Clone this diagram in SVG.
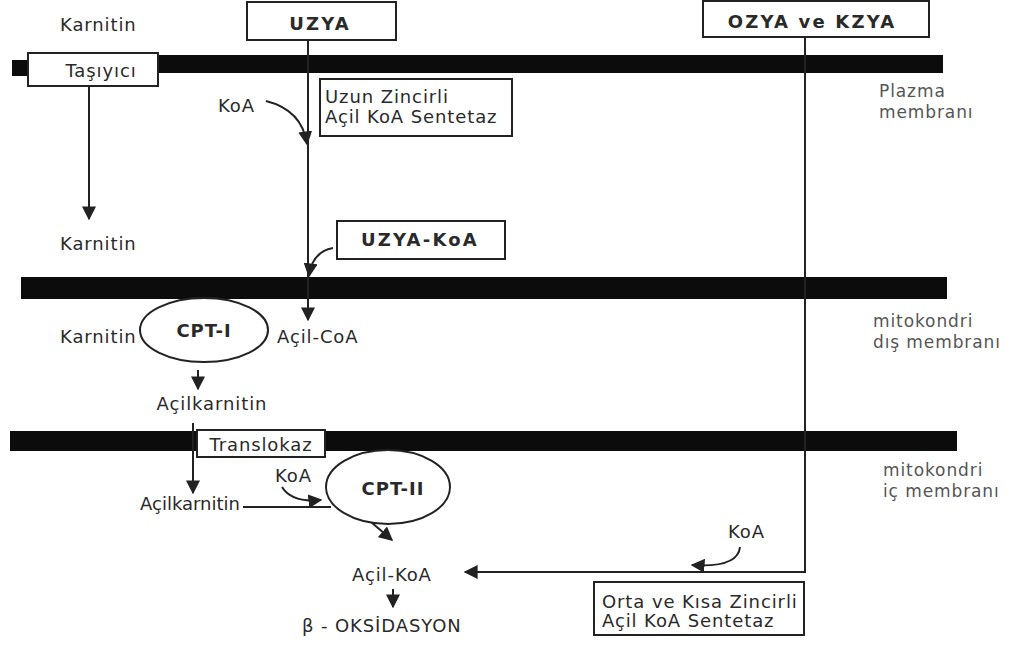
<svg xmlns="http://www.w3.org/2000/svg" width="1013" height="648" viewBox="0 0 1013 648">
<style>
.t{font-family:"DejaVu Sans",sans-serif;font-size:18px;fill:#2a2a2a;letter-spacing:0.9px}
.b{font-family:"DejaVu Sans",sans-serif;font-size:18px;font-weight:bold;fill:#2a2a2a;letter-spacing:2.2px}
.g{font-family:"DejaVu Sans",sans-serif;font-size:17px;fill:#555;letter-spacing:0.9px}
.box{fill:#fff;stroke:#222;stroke-width:2}
.bar{fill:#0c0c0c}
.ln{fill:none;stroke:#222;stroke-width:2}
.ar{fill:none;stroke:#222;stroke-width:2;marker-end:url(#ah)}
</style>
<defs>
<marker id="ah" viewBox="0 0 10 10" refX="9" refY="5" markerWidth="14" markerHeight="14" markerUnits="userSpaceOnUse" orient="auto">
<path d="M0,0 L10,5 L0,10 z" fill="#222"/>
</marker>
</defs>
<rect width="1013" height="648" fill="#fff"/>

<g id="membranes">
<rect class="bar" x="12" y="60" width="20" height="16"/>
<rect class="bar" x="150" y="55" width="793" height="18"/>
<rect class="bar" x="21" y="277" width="926" height="22"/>
<rect class="bar" x="10" y="431" width="947" height="20"/>
<text class="g" x="879" y="97">Plazma</text>
<text class="g" x="879" y="118">membranı</text>
<text class="g" x="873" y="327">mitokondri</text>
<text class="g" x="873" y="348">dış membranı</text>
<text class="g" x="883" y="476">mitokondri</text>
<text class="g" x="883" y="497">iç membranı</text>
</g>

<g id="connectors">
<path class="ar" d="M89,86 V219"/>
<path class="ar" d="M308,40 V320"/>
<path class="ar" d="M266,101 Q302,110 307,144"/>
<path class="ar" d="M333,248 Q312,252 309,276"/>
<path class="ar" d="M198,370 V389"/>
<path class="ar" d="M193,423 V493"/>
<path class="ln" d="M243,507 H331"/>
<path class="ar" d="M282,487 Q292,503 321,500"/>
<path class="ar" d="M371,522 L392,540"/>
<path class="ar" d="M393,589 V607"/>
<path class="ar" d="M805,37 V572 H465"/>
<path class="ar" d="M740,547 Q738,568 692,565"/>
</g>

<g id="karnitin-out"><text class="t" x="60" y="31">Karnitin</text></g>
<g id="tasiyici"><rect class="box" x="28" y="53" width="130" height="33"/><text class="t" x="101" y="77" text-anchor="middle">Taşıyıcı</text></g>
<g id="uzya"><rect class="box" x="247" y="2" width="149" height="38"/><text class="b" x="320" y="30" text-anchor="middle">UZYA</text></g>
<g id="ozya"><rect class="box" x="703" y="1" width="226" height="36"/><text class="b" x="812" y="28" text-anchor="middle">OZYA ve KZYA</text></g>
<g id="koa1"><text class="t" x="218" y="112">KoA</text></g>
<g id="uzun-sentetaz"><rect class="box" x="320" y="79" width="192" height="57"/><text class="t" x="325" y="103">Uzun Zincirli</text><text class="t" x="325" y="123">Açil KoA Sentetaz</text></g>
<g id="karnitin-in"><text class="t" x="60" y="250">Karnitin</text></g>
<g id="uzya-koa"><rect class="box" x="337" y="221" width="168" height="38"/><text class="b" x="420" y="246" text-anchor="middle">UZYA-KoA</text></g>
<g id="cpt1"><ellipse cx="204" cy="330" rx="64" ry="32" class="box"/><text class="b" x="204" y="337" text-anchor="middle" style="letter-spacing:1px">CPT-I</text></g>
<g id="karnitin-cpt"><text class="t" x="60" y="343">Karnitin</text></g>
<g id="acil-coa"><text class="t" x="277" y="343">Açil-CoA</text></g>
<g id="acilkarnitin1"><text class="t" x="212" y="410" text-anchor="middle">Açilkarnitin</text></g>
<g id="translokaz"><rect class="box" x="197" y="430" width="128" height="27"/><text class="t" x="261" y="451" text-anchor="middle">Translokaz</text></g>
<g id="acilkarnitin2"><text class="t" x="140" y="510" style="letter-spacing:0">Açilkarnitin</text></g>
<g id="koa2"><text class="t" x="275" y="482">KoA</text></g>
<g id="cpt2"><ellipse cx="388" cy="487" rx="62" ry="37" class="box"/><text class="b" x="393" y="495" text-anchor="middle" style="letter-spacing:1px">CPT-II</text></g>
<g id="acil-koa"><text class="t" x="352" y="581">Açil-KoA</text></g>
<g id="beta"><text class="t" x="302" y="632">β - OKSİDASYON</text></g>
<g id="koa3"><text class="t" x="728" y="538">KoA</text></g>
<g id="orta-sentetaz"><rect class="box" x="594" y="582" width="210" height="53"/><text class="t" x="602" y="608">Orta ve Kısa Zincirli</text><text class="t" x="602" y="627">Açil KoA Sentetaz</text></g>
</svg>
